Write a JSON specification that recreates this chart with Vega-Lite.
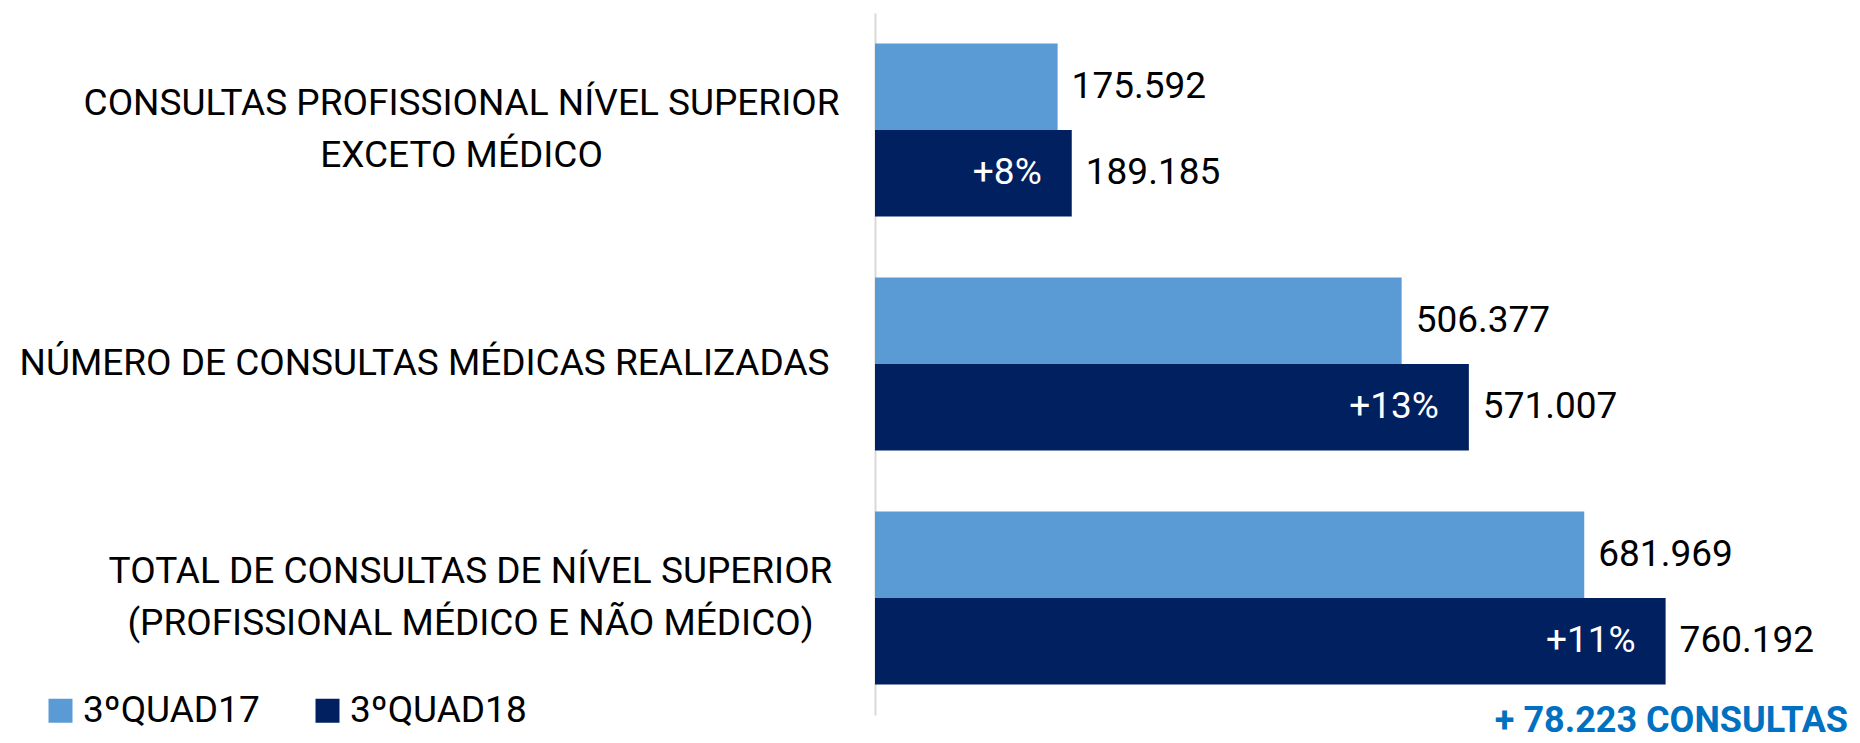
{
  "$schema": "https://vega.github.io/schema/vega-lite/v6.json",
  "width": 980,
  "height": 702,
  "autosize": {"type": "none"},
  "padding": {"left": 875, "top": 13, "right": 5, "bottom": 28},
  "config": {
    "font": "Roboto",
    "view": {"stroke": null},
    "locale": {"number": {"decimal": ",", "thousands": ".", "grouping": [3], "currency": ["R$", ""]}}
  },
  "title": {
    "text": "+ 78.223 CONSULTAS",
    "orient": "bottom",
    "anchor": "end",
    "frame": "group",
    "fontSize": 36,
    "fontWeight": "bold",
    "color": "#0070C0",
    "font": "Roboto",
    "offset": 0,
    "dx": -7,
    "dy": -25
  },
  "data": {
    "values": [
      {"cat": "CONSULTAS PROFISSIONAL NÍVEL SUPERIOR|EXCETO MÉDICO", "period": "3ºQUAD17", "value": 175592, "pct": ""},
      {"cat": "CONSULTAS PROFISSIONAL NÍVEL SUPERIOR|EXCETO MÉDICO", "period": "3ºQUAD18", "value": 189185, "pct": "+8%"},
      {"cat": "NÚMERO DE CONSULTAS MÉDICAS REALIZADAS", "period": "3ºQUAD17", "value": 506377, "pct": ""},
      {"cat": "NÚMERO DE CONSULTAS MÉDICAS REALIZADAS", "period": "3ºQUAD18", "value": 571007, "pct": "+13%"},
      {"cat": "TOTAL DE CONSULTAS DE NÍVEL SUPERIOR|(PROFISSIONAL MÉDICO E NÃO MÉDICO)", "period": "3ºQUAD17", "value": 681969, "pct": ""},
      {"cat": "TOTAL DE CONSULTAS DE NÍVEL SUPERIOR|(PROFISSIONAL MÉDICO E NÃO MÉDICO)", "period": "3ºQUAD18", "value": 760192, "pct": "+11%"}
    ]
  },
  "encoding": {
    "y": {
      "field": "cat",
      "type": "nominal",
      "sort": null,
      "scale": {"paddingInner": 0.26, "paddingOuter": 0.13},
      "axis": {
        "title": null,
        "ticks": false,
        "domainColor": "#d9d9d9",
        "domainWidth": 2,
        "labelExpr": "split(datum.label, '|')",
        "labelFontSize": 37,
        "labelColor": "#000000",
        "labelLineHeight": 52,
        "labelLimit": 1000,
        "labelAlign": "center",
        "labelOffset": {
          "condition": {"test": "datum.value == 'NÚMERO DE CONSULTAS MÉDICAS REALIZADAS'", "value": 0},
          "value": -26
        },
        "labelPadding": {
          "condition": [
            {"test": "datum.value == 'NÚMERO DE CONSULTAS MÉDICAS REALIZADAS'", "value": 451},
            {"test": "datum.value == 'CONSULTAS PROFISSIONAL NÍVEL SUPERIOR|EXCETO MÉDICO'", "value": 414}
          ],
          "value": 405
        }
      }
    },
    "yOffset": {"field": "period", "type": "nominal", "sort": ["3ºQUAD17", "3ºQUAD18"], "scale": {"paddingInner": 0, "paddingOuter": 0}},
    "x": {"field": "value", "type": "quantitative", "scale": {"domain": [0, 942300], "nice": false}, "axis": null}
  },
  "layer": [
    {
      "mark": {"type": "bar"},
      "encoding": {
        "color": {
          "field": "period",
          "type": "nominal",
          "scale": {"domain": ["3ºQUAD17", "3ºQUAD18"], "range": ["#5B9BD5", "#002060"]},
          "legend": {
            "title": null,
            "orient": "none",
            "direction": "horizontal",
            "legendX": -833,
            "legendY": 679,
            "symbolType": "square",
            "symbolSize": 576,
            "symbolStrokeWidth": 0,
            "labelFontSize": 37,
            "labelColor": "#000000",
            "labelOffset": 4,
            "columnPadding": 49,
            "labelLimit": 400
          }
        }
      }
    },
    {
      "mark": {"type": "text", "align": "left", "baseline": "middle", "dx": 14, "fontSize": 37, "color": "#000000"},
      "encoding": {"text": {"field": "value", "type": "quantitative", "format": ",d"}}
    },
    {
      "transform": [{"filter": "datum.pct != ''"}],
      "mark": {"type": "text", "align": "right", "baseline": "middle", "dx": -30, "fontSize": 37, "color": "#ffffff"},
      "encoding": {"text": {"field": "pct", "type": "nominal"}}
    }
  ]
}
